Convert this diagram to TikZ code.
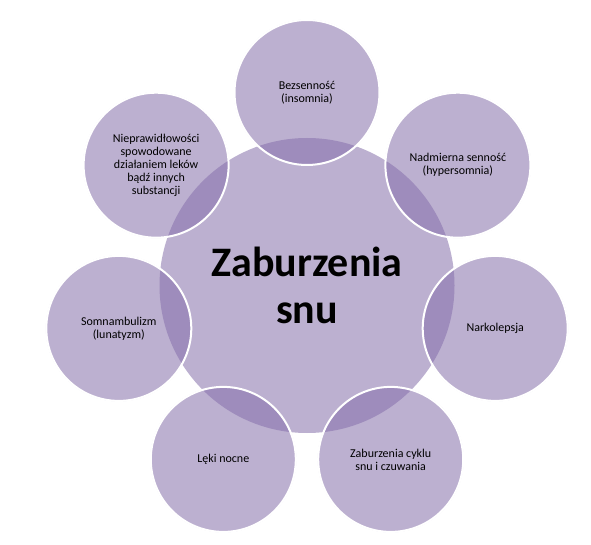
\documentclass[tikz,border=0pt]{standalone}
\usepackage{fontspec}
\setmainfont{Carlito}
\pgfdeclarelayer{bg}
\pgfsetlayers{bg,main}
\definecolor{lav}{RGB}{188,176,208}
\definecolor{lavd}{RGB}{158,140,188}
\begin{document}
\begin{tikzpicture}[x=1pt,y=-1pt,
  hub/.style={circle,minimum size=295pt,inner sep=0pt,align=center,
    font=\fontsize{42}{47}\selectfont\bfseries},
  leaf/.style={circle,minimum size=146pt,inner sep=0pt,align=center,
    font=\fontsize{12}{13}\selectfont},
  rim/.style={draw=white,line width=2pt}
]
\useasboundingbox (0,0) rectangle (591,545);
\node[hub]  (c)  at (307,285.5) {Zaburzenia\\snu};
\node[leaf] (o1) at (307,92.5)  {Bezsenność\\(insomnia)};
\node[leaf] (o2) at (457.9,165.2) {Nadmierna senność\\(hypersomnia)};
\node[leaf] (o3) at (495.2,328.4) {Narkolepsja};
\node[leaf] (o4) at (390.7,459.4) {Zaburzenia cyklu\\snu i czuwania};
\node[leaf] (o5) at (223.3,459.4) {Lęki nocne};
\node[leaf] (o6) at (118.8,328.4) {Somnambulizm\\(lunatyzm)};
\node[leaf] (o7) at (156.1,165.2) {Nieprawidłowości\\spowodowane\\działaniem leków\\bądź innych\\substancji};
\begin{pgfonlayer}{bg}
  \fill[lav] (c.center) circle (147.5pt);
  \foreach \n in {o1,o2,o3,o4,o5,o6,o7} {
    \fill[lav] (\n.center) circle (73pt);
    \begin{scope}
      \clip (c.center) circle (147.5pt);
      \fill[lavd] (\n.center) circle (73pt);
    \end{scope}
    \draw[rim] (\n.center) circle (72.5pt);
  }
\end{pgfonlayer}
\end{tikzpicture}
\end{document}
